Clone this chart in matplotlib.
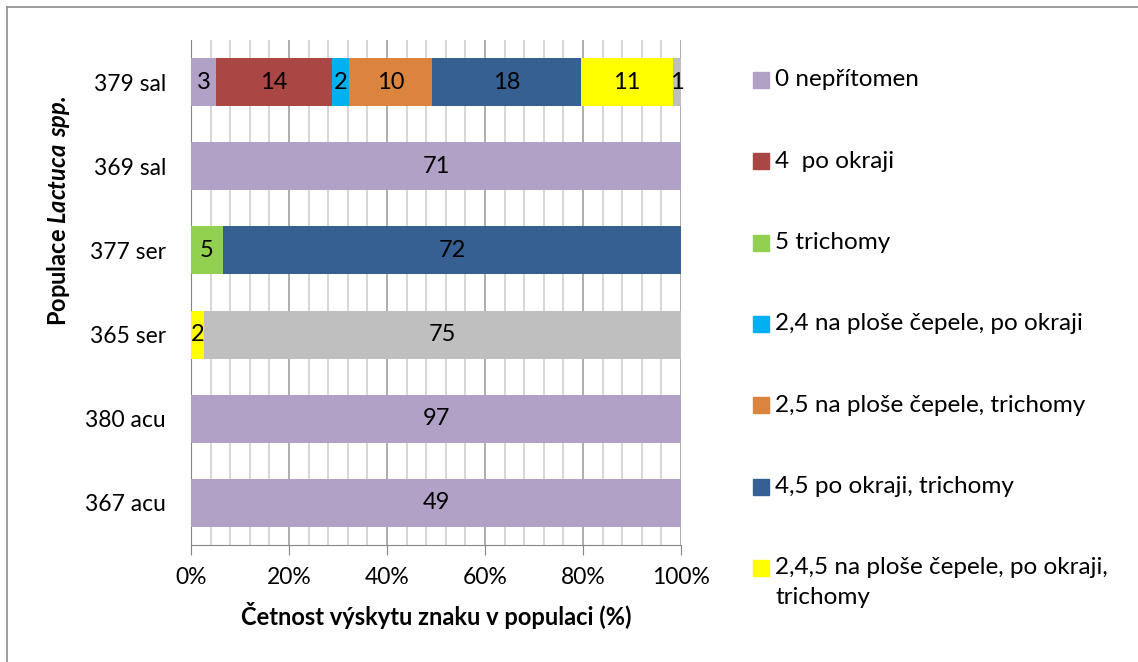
import numpy as np
import matplotlib.pyplot as plt
from matplotlib.patches import Rectangle
from matplotlib.lines import Line2D
from matplotlib.ticker import MultipleLocator, FuncFormatter

plt.rcParams['font.family'] = ['Lato', 'DejaVu Sans']
plt.rcParams['mathtext.fontset'] = 'custom'
plt.rcParams['mathtext.bfit'] = 'Lato:bold:italic'
plt.rcParams['mathtext.bf'] = 'Lato:bold'

W, H = 1138, 662

# populations, bottom to top
populations = ['367 acu', '380 acu', '365 ser', '377 ser', '369 sal', '379 sal']

# counts per character state
nepritomen = [49, 97, 0, 0, 71, 3]
po_okraji = [0, 0, 0, 0, 0, 14]
trichomy = [0, 0, 0, 5, 0, 0]
s24 = [0, 0, 0, 0, 0, 2]
s25 = [0, 0, 0, 0, 0, 10]
s45 = [0, 0, 0, 72, 0, 18]
s245 = [0, 0, 2, 0, 0, 11]
ostatni = [0, 0, 75, 0, 0, 1]

series = [
    ('0 nepřítomen', nepritomen, '#B2A1C7'),
    ('4  po okraji', po_okraji, '#AA4643'),
    ('5 trichomy', trichomy, '#92D050'),
    ('2,4 na ploše čepele, po okraji', s24, '#00B0F0'),
    ('2,5 na ploše čepele, trichomy', s25, '#DB843D'),
    ('4,5 po okraji, trichomy', s45, '#366092'),
    ('2,4,5 na ploše čepele, po okraji,\ntrichomy', s245, '#FFFF00'),
    ('_ostatni', ostatni, '#BFBFBF'),
]

counts = np.array([s[1] for s in series], dtype=float)
totals = counts.sum(axis=0)
pct = counts / totals * 100

fig = plt.figure(figsize=(W / 100, H / 100), dpi=100)
ax = fig.add_axes([191 / W, 1 - 545 / H, 490 / W, 505 / H])

y = np.arange(len(populations))
left = np.zeros(len(populations))
for (name, vals, col), p in zip(series, pct):
    ax.barh(y, p, left=left, height=0.57, color=col, label=name, zorder=3)
    for i in range(len(populations)):
        if vals[i] > 0:
            ax.text(left[i] + p[i] / 2, y[i], str(vals[i]), ha='center', va='center',
                    fontsize=17, color='black', zorder=4)
    left += p

ax.set_xlim(0, 100)
ax.set_ylim(-0.5, 5.5)
ax.set_yticks(y)
ax.set_yticklabels(populations, fontsize=16.5)
ax.xaxis.set_major_locator(MultipleLocator(20))
ax.xaxis.set_minor_locator(MultipleLocator(4))
ax.xaxis.set_major_formatter(FuncFormatter(lambda v, p: f'{v:.0f}%'))
ax.tick_params(axis='x', which='major', labelsize=16.5, length=7, color='#868686', pad=9)
ax.tick_params(axis='x', which='minor', length=0)
ax.tick_params(axis='y', length=0, pad=18)
ax.grid(axis='x', which='major', color='#A0A0A0', lw=1.2, zorder=0)
ax.grid(axis='x', which='minor', color='#D0D0D0', lw=1.2, zorder=0)
for s in ['top', 'right']:
    ax.spines[s].set_visible(False)
ax.spines['left'].set_color('#868686')
ax.spines['bottom'].set_color('#868686')

ax.set_xlabel('Četnost výskytu znaku v populaci (%)', fontsize=17, fontweight='bold', labelpad=10)
fig.text(58 / W, 1 - 211 / H, r'Populace $\mathbfit{Lactuca\ spp.}$', rotation=90,
         fontsize=17, fontweight='bold', ha='center', va='center')

# legend drawn as squares + text to keep the Excel-like spacing
leg_items = [(n, c) for n, v, c in series if not n.startswith('_')]
for k, (name, col) in enumerate(leg_items):
    yc = 80 + k * 81.3
    fig.add_artist(Rectangle((753 / W, 1 - (yc + 8) / H), 16 / W, 16 / H,
                             transform=fig.transFigure, color=col))
    for j, line in enumerate(name.split('\n')):
        fig.text(775 / W, 1 - (yc + j * 30) / H, line, fontsize=17.5,
                 ha='left', va='center')

# outer chart frame (partly cropped)
fig.add_artist(Line2D([7 / W, 7 / W], [0, 1 - 7 / H], color='#8C8C8C', lw=1.2))
fig.add_artist(Line2D([7 / W, 1], [1 - 7 / H, 1 - 7 / H], color='#8C8C8C', lw=1.2))

fig.savefig('out.png', dpi=100)
